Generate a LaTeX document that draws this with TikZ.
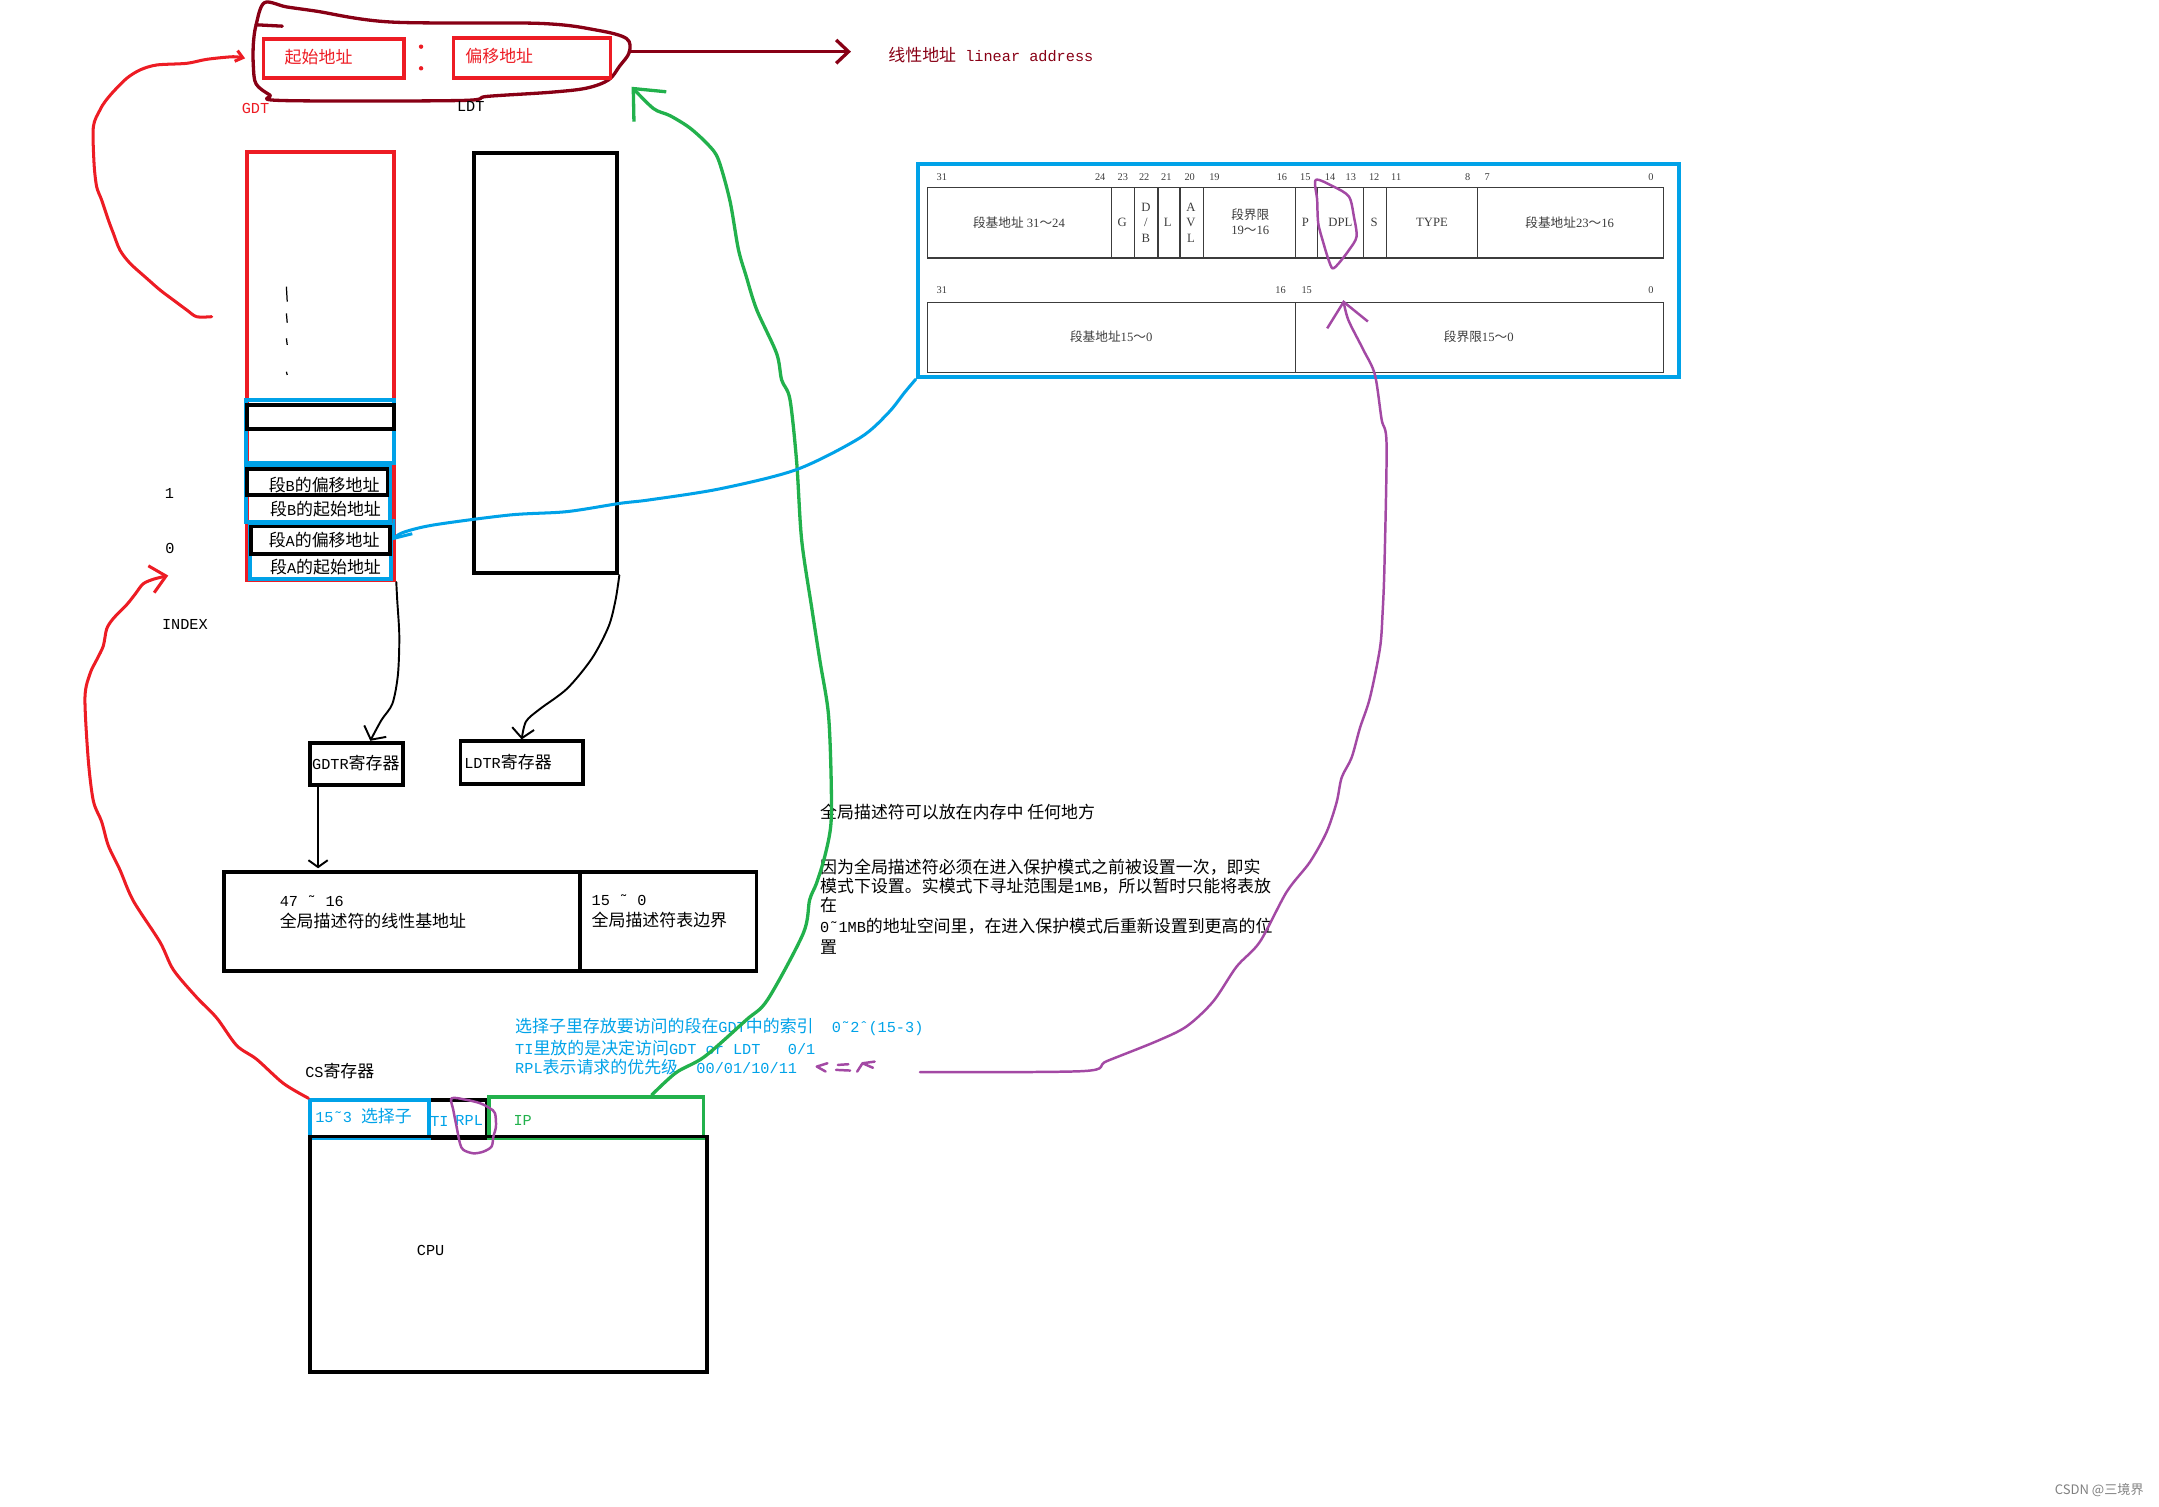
\documentclass[tikz,border=0pt]{standalone}
\usepackage{fontspec}
\setmainfont[Scale=0.9]{Liberation Mono}
\newfontfamily\zh{Noto Sans CJK SC}
\newfontfamily\tabf{Liberation Serif}
\usetikzlibrary{arrows.meta}
\newcommand\zt[1]{{\zh #1}}
\definecolor{pred}{RGB}{237,28,36}
\definecolor{pmaroon}{RGB}{136,0,21}
\definecolor{pblue}{RGB}{0,162,232}
\definecolor{pgreen}{RGB}{34,177,76}
\definecolor{ppurple}{RGB}{163,73,164}
\definecolor{tabgray}{RGB}{60,60,60}
\tikzset{
  box/.style={draw, line width=2.8pt, inner sep=0pt, anchor=north west},
  lbl/.style={inner sep=0pt, anchor=west, font=\fontsize{12.3}{14}\selectfont},
  cell/.style={inner sep=0pt, text=tabgray, font=\tabf\fontsize{9.2}{10}\selectfont},
  bit/.style={inner sep=0pt, text=tabgray, font=\tabf\fontsize{7.5}{8}\selectfont},
  ink/.style={line width=2.2pt, line cap=round, line join=round},
  pen/.style={line width=1.4pt, line cap=round, line join=round},
  grid/.style={draw=tabgray, line width=0.8pt},
}
\begin{document}
\begin{tikzpicture}[x=1pt, y=-1pt]
\useasboundingbox (0,0) rectangle (1568,1094);

\draw[pmaroon, ink, line width=2.4pt] plot[smooth cycle, tension=0.55] coordinates {(192,2) (208,5) (229,8) (284,16) (392,17) (434,22) (455,28) (457,38) (450,48) (442,58) (426,64) (400,67) (354,70) (334,73) (205,73) (196,69) (186,61) (184,48) (184,32) (186,18)};
\draw[pmaroon, ink, line width=2.4pt] (186,18) -- (205,19);
\node[box, draw=pred, minimum width=102pt, minimum height=28pt] (sb) at (190,27) {};
\node[box, draw=pred, minimum width=114pt, minimum height=29pt] (ob) at (328,26) {};
\node[lbl, text=pred] (sbt) at (206.6,41.2) {\zt{起始地址}};
\node[lbl, text=pred] (obt) at (337.8,41) {\zt{偏移地址}};
\fill[pred] (305.8,33.9) circle (1.6pt) (305.8,49.6) circle (1.6pt);
\node[lbl, text=pred] (gdtl) at (175.4,78.7) {GDT};
\node[lbl] (ldtl) at (331.7,77.5) {LDT};
\node[lbl, text=pmaroon] (la) at (645,40) {\zt{线性地址} linear address};
\coordinate (blobR) at (457,37.5);

\node[box, draw=pred, minimum width=107pt, minimum height=311pt] (gdt) at (178,109) {};
\foreach \a/\b in {208.2/219, 227.6/234.4, 245.7/250.5, 270/272.3}
  \draw[line width=0.9pt] (208,\a) -- (208.6,\b);
\node[box, draw=pblue, minimum width=108pt, minimum height=46pt] (e2) at (177,289) {};
\node[box, minimum width=107pt, minimum height=17pt] (e2o) at (178,293) {};
\node[box, draw=pblue, minimum width=105pt, minimum height=40pt] (e1) at (177,338) {};
\node[box, minimum width=102pt, minimum height=19pt] (e1o) at (178,339) {};
\node[box, draw=pblue, minimum width=102.5pt, minimum height=39pt] (e0) at (180,380) {};
\node[box, minimum width=101pt, minimum height=20pt] (e0o) at (181,381) {};
\node[lbl] (e1ot) at (195,352.2) {\zt{段}B\zt{的偏移地址}};
\node[lbl] (e1st) at (196,369.6) {\zt{段}B\zt{的起始地址}};
\node[lbl] (e0ot) at (195,392.2) {\zt{段}A\zt{的偏移地址}};
\node[lbl] (e0st) at (196,411.5) {\zt{段}A\zt{的起始地址}};
\node[lbl, anchor=center] (i1) at (123,358.3) {1};
\node[lbl, anchor=center] (i0) at (123.5,398.2) {0};
\node[lbl, anchor=center] (idx) at (134.3,453.2) {INDEX};
\coordinate (idxTip) at (122.2,418);

\node[box, minimum width=104pt, minimum height=305pt] (ldt) at (343,110) {};

\node[box, minimum width=67pt, minimum height=31pt] (gdtr) at (224,538) {};
\node[lbl] (gdtrt) at (226.5,554.5) {GDTR\zt{寄存器}};
\node[box, minimum width=89pt, minimum height=31pt] (ldtr) at (333,537) {};
\node[lbl] (ldtrt) at (337,553.5) {LDTR\zt{寄存器}};

\node[box, minimum width=259pt, minimum height=72pt] (gbase) at (161,632) {};
\node[box, minimum width=128pt, minimum height=72pt] (glim) at (420,632) {};
\node[lbl] (gbt1) at (203,654.8) {47 ˜ 16};
\node[lbl] (gbt2) at (203,668.5) {\zt{全局描述符的线性基地址}};
\node[lbl] (glt1) at (429.5,653.6) {15 ˜ 0};
\node[lbl] (glt2) at (429.5,668) {\zt{全局描述符表边界}};

\node[lbl] (p1) at (595.5,589.5) {\zt{全局描述符可以放在内存中 任何地方}};
\node[lbl] (p2) at (595.5,629.9) {\zt{因为全局描述符必须在进入保护模式之前被设置一次，即实}};
\node[lbl] (p3) at (595.5,643.9) {\zt{模式下设置。实模式下寻址范围是}1MB\zt{，所以暂时只能将表放}};
\node[lbl] (p4) at (595.5,657.5) {\zt{在}};
\node[lbl] (p5) at (595.5,673) {0˜1MB\zt{的地址空间里，在进入保护模式后重新设置到更高的位}};
\node[lbl] (p6) at (595.5,687.5) {\zt{置}};

\node[lbl, text=pblue] (s1) at (374,745.6) {\zt{选择子里存放要访问的段在}GDT\zt{中的索引}\ \ 0˜2ˆ(15-3)};
\node[lbl, text=pblue] (s2) at (374,761) {TI\zt{里放的是决定访问}GDT or LDT\ \ \ 0/1};
\node[lbl, text=pblue] (s3) at (374,775) {RPL\zt{表示请求的优先级}\ \ 00/01/10/11};

\node[lbl] (csl) at (221.5,778) {CS\zt{寄存器}};
\node[box, minimum width=128pt, minimum height=27.5pt] (cs) at (224,797.6) {};
\node[box, draw=pblue, minimum width=86pt, minimum height=27.4pt] (sel) at (224,797.6) {};
\node[box, draw=pgreen, minimum width=156pt, minimum height=30pt] (ip) at (353.5,795.3) {};
\node[box, minimum width=288pt, minimum height=171pt] (cpu) at (224,824) {};
\node[lbl, text=pblue] (selt) at (228.8,810.5) {15˜3 \zt{选择子}};
\node[lbl, text=pblue] (ti) at (312.3,814.6) {TI};
\node[lbl, text=pblue] (rpl) at (330.6,813.9) {RPL};
\node[lbl, text=pgreen] (ipt) at (372.8,813.9) {IP};
\node[lbl] (cput) at (302.6,908.3) {CPU};

\node[box, draw=pblue, line width=3pt, minimum width=553pt, minimum height=155pt] (desc) at (665,117.5) {};
\node[box, grid, minimum width=535pt, minimum height=51pt] (hi) at (673,136) {};
\node[box, grid, minimum width=535pt, minimum height=50.5pt] (lo) at (673,219.5) {};
\foreach \x in {807,824,841,857,874,941,957,990,1007,1073}
  \draw[grid] (\x,136) -- (\x,187);
\draw[grid] (941,219.5) -- (941,270);
\foreach \x/\b in {684/31,799/24,815.5/23,831/22,847/21,864/20,882/19,931/16,948/15,966/14,981/13,998/12,1014/11,1066/8,1080/7,1199/0}
  \node[bit] (bh\b) at (\x,128.5) {\b};
\foreach \x/\b in {684/31,930/16,949/15,1199/0}
  \node[bit] (bl\b) at (\x,211) {\b};
\node[cell] (c1) at (740,161.7) {\zt{段基地址} 31\zt{～}24};
\node[cell] (c2) at (815,161.7) {G};
\node[cell, align=center, font=\tabf\fontsize{9.2}{11.2}\selectfont] (c3) at (832.2,161.7) {D\\/\\B};
\node[cell] (c4) at (848,161.7) {L};
\node[cell, align=center, font=\tabf\fontsize{9.2}{11.2}\selectfont] (c5) at (865,161.7) {A\\V\\L};
\node[cell, align=center, font=\tabf\fontsize{9.2}{11}\selectfont] (c6) at (908,161) {\zt{段界限}\\19\zt{～}16};
\node[cell] (c7) at (948,161.7) {P};
\node[cell] (c8) at (973.5,161.7) {DPL};
\node[cell] (c9) at (998,161.7) {S};
\node[cell] (c10) at (1040,161.7) {TYPE};
\node[cell] (c11) at (1140,161.7) {\zt{段基地址}23\zt{～}16};
\node[cell] (c12) at (807,244.5) {\zt{段基地址}15\zt{～}0};
\node[cell] (c13) at (1074,244.5) {\zt{段界限}15\zt{～}0};

\draw[ppurple, ink, line width=1.8pt] plot[smooth cycle] coordinates {(955.6,130.7) (968.6,135.6) (979.7,142.8) (983.3,157.4) (985.2,171.9) (979.7,181.6) (972.3,191.2) (967.8,194.9) (964.9,188.8) (961.2,176.7) (957.4,162.2) (956.6,145.2)};
\draw[ppurple, ink, line width=1.8pt] plot[smooth cycle] coordinates {(328,797.6) (338.9,798.8) (348.6,801.2) (355.8,804.9) (359.5,808.5) (360.2,818.2) (358.3,825.5) (357,832.7) (351,836.4) (343.7,837.6) (336.5,835.1) (334,830.3) (331.6,818.2) (329.2,806.1)};
\draw[ppurple, ink, line width=1.8pt] (600.9,772.2) -- (593.2,774.6) -- (599.6,778.2) (608.5,773.4) -- (616.1,772.9) (607.2,777) -- (617.4,777.5) (622.5,778.3) -- (626.4,772.2) -- (635.2,771) (626.4,772.2) -- (634,775.5);

\coordinate (gdtL) at (153.7,230);
\coordinate (pS) at (668.1,778.6);
\coordinate (ldaTip) at (458.7,63);
\coordinate (dplTip) at (975.6,217.9);

\draw[pmaroon, ink, line width=2.4pt, -{Straight Barb[length=9pt,width=17pt]}, shorten >=27pt] (blobR) -- (blobR -| la.west);
\draw[pred, ink, -{Straight Barb[length=5pt,width=8pt]}] plot[smooth] coordinates {(gdtL) (142.8,230) (135.6,225.1) (125.9,217.9) (116.2,210.6) (106.5,202.1) (94.4,191.2) (87.1,181.6) (82.3,169.4) (78.7,159.8) (73.8,145.2) (70.2,135.6) (68.3,118.6) (67.8,92) (72.6,79.9) (76.3,73.8) (82.3,66.6) (92,56.9) (101.7,50.8) (113.8,47.2) (135.6,46) (150.1,43.1) (169.4,41.2) ([xshift=-12pt]sb.west)};
\draw[pred, ink, -{Straight Barb[length=11pt,width=20pt]}] plot[smooth] coordinates {(sel.north west) (205.8,786.8) (186.4,769.3) (171.9,759.3) (157.4,739.3) (142.8,724.3) (125.9,704.3) (116.2,684.2) (96.8,654.2) (87.1,631.7) (78.7,614.2) (73.8,596.7) (67.8,581.7) (64.1,551.7) (61.7,506.7) (65.4,489.2) (70.2,479.2) (75,469.2) (77.5,456.7) (82.3,449.2) (92,439.2) (98,431.7) (104,424) (112,420.5) (idxTip)};
\draw[pgreen, ink, line width=2.4pt, -{Straight Barb[length=18pt,width=32pt]}] plot[smooth] coordinates {([xshift=-39pt]ip.north east) (491,779) (511.7,767.4) (542,740.7) (557.5,726) (583.4,677.8) (588,653.6) (593,641.5) (599,622) (603.5,598) (603.5,560) (601.5,517) (595.5,480) (589.5,441.3) (582.2,392) (578.6,335.7) (573.7,290) (567.7,276) (564,256.6) (549.5,224.8) (541.8,200.2) (536.2,180.8) (530.1,145.7) (521.7,115.8) (514.4,105.2) (501,92.9) (486.6,84) (474.5,78.8) (ldaTip)};
\draw[pblue, ink, -{Straight Barb[length=11pt,width=17pt]}] plot[smooth] coordinates {(desc.south west) (657,285) (645,300) (624.5,318) (578.6,341) (522.9,355) (472,363) (450,365.6) (411.5,371.6) (370.4,374) (314.7,381.3) (292,387) (e0o.east)};
\draw[ppurple, ink, line width=1.8pt, -{Straight Barb[length=17pt,width=30pt]}] plot[smooth] coordinates {(pS) (786.7,777.9) (803.7,770.7) (840,756.2) (861.8,745.4) (881.1,727.3) (898.1,702) (915,684) (934.4,647.8) (951.3,626.1) (963.4,604.4) (970.7,582.8) (974.4,564.7) (981.6,550.3) (987.7,528.6) (994.9,506.9) (1002.2,470.8) (1004.1,445.5) (1005.5,410) (1007,322.7) (1003.4,304.6) (998.5,272) (990.1,254) (979.2,232.3) (dplTip)};
\draw[pen, -{Straight Barb[length=7pt,width=18pt]}] plot[smooth] coordinates {(gdt.south east) (288.5,436) (290,462) (289,490) (285,511) (277,523) ([xshift=10pt]gdtr.north)};
\draw[pen, -{Straight Barb[length=7pt,width=16pt]}] plot[smooth] coordinates {(ldt.south east) (447,436) (442,455) (430,478) (412,500) (392,515) (382,524) (ldtr.north)};
\draw[pen, -{Straight Barb[length=5pt,width=14pt]}, shorten >=1.4pt] (gdtr.south -| 231,0) -- (gbase.north -| 231,0);

\node[inner sep=0pt, anchor=east, text=gray, font=\zh\fontsize{9.5}{10}\selectfont] (wm) at (1557,1082) {CSDN @三境界};
\end{tikzpicture}
\end{document}
